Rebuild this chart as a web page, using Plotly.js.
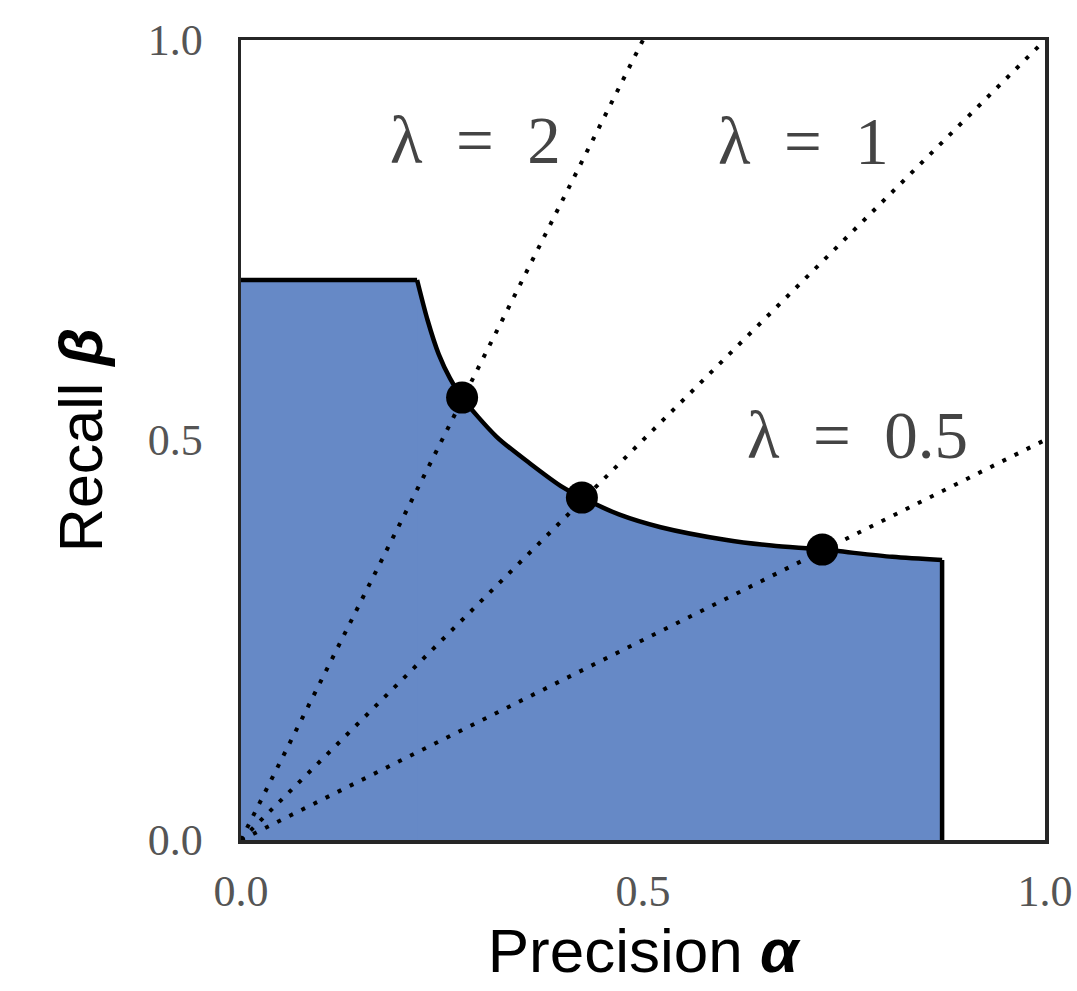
<!DOCTYPE html>
<html>
<head>
<meta charset="utf-8">
<script src="https://cdn.plot.ly/plotly-3.0.1.min.js"></script>
<style>html,body{margin:0;padding:0;background:#fff;}#chart{width:1077px;height:991px;}</style>
</head>
<body>
<div id="chart"></div>
<script>
// PRD curve (precision alpha, recall beta)
const curveAlpha = [0, 0.219, 0.232, 0.246, 0.260, 0.275, 0.318, 0.359, 0.400, 0.424, 0.470, 0.522, 0.604, 0.660, 0.723, 0.810, 0.872, 0.872];
const curveBeta  = [0.700, 0.700, 0.650, 0.607, 0.577, 0.553, 0.504, 0.471, 0.441, 0.428, 0.407, 0.391, 0.375, 0.368, 0.363, 0.354, 0.350, 0];

// lambda rays and their intersections with the curve
const lambdas = [2, 1, 0.5];
const lambdaLabels = ['λ\u2002=\u20022', 'λ\u2002=\u20021', 'λ\u2002=\u20020.5'];
const pointAlpha = [0.275, 0.424, 0.723];
const pointBeta  = [0.553, 0.428, 0.363];
const labelAlpha = [0.292, 0.70, 0.767];
const labelBeta  = [0.875, 0.874, 0.506];

const tickVals = [0, 0.5, 1];
const tickText = ['0.0', '0.5', '1.0'];

const n = curveAlpha.length;
// straight pieces (flat top, vertical right side) and the smooth curved part between them
const curvedA = curveAlpha.slice(1, n - 1), curvedB = curveBeta.slice(1, n - 1);
const FILL = '#6689c6';

const traces = [];
// fill under the whole curve (base), then the smooth part on top of it
traces.push({
  x: curveAlpha, y: curveBeta, type: 'scatter', mode: 'none',
  fill: 'tozeroy', fillcolor: FILL, hoverinfo: 'skip', showlegend: false
});
traces.push({
  x: curvedA, y: curvedB, type: 'scatter', mode: 'none', line: {shape: 'spline', smoothing: 0.8},
  fill: 'tozeroy', fillcolor: FILL, hoverinfo: 'skip', showlegend: false
});
lambdas.forEach(function (lam) {
  const xEnd = Math.min(1, 1 / lam);
  traces.push({
    x: [0, xEnd], y: [0, lam * xEnd], type: 'scatter', mode: 'lines',
    line: {color: '#000', width: 4, dash: '4px,9.5px'}, showlegend: false, hoverinfo: 'skip'
  });
});
traces.push({
  x: curveAlpha.slice(0, 2), y: curveBeta.slice(0, 2), type: 'scatter', mode: 'lines',
  line: {color: '#000', width: 4.5}, showlegend: false
});
traces.push({
  x: curvedA, y: curvedB, type: 'scatter', mode: 'lines',
  line: {color: '#000', width: 4.5, shape: 'spline', smoothing: 0.8}, showlegend: false
});
traces.push({
  x: curveAlpha.slice(n - 2), y: curveBeta.slice(n - 2), type: 'scatter', mode: 'lines',
  line: {color: '#000', width: 4.5}, showlegend: false
});
traces.push({
  x: pointAlpha, y: pointBeta, type: 'scatter', mode: 'markers',
  marker: {color: '#000', size: 32}, showlegend: false
});

const annotations = lambdaLabels.map(function (t, i) {
  return {
    x: labelAlpha[i], y: labelBeta[i], xref: 'x', yref: 'y', text: t, showarrow: false,
    font: {family: 'Liberation Serif, serif', size: 67, color: '#444'},
    xanchor: 'center', yanchor: 'middle'
  };
});

const axisCommon = {
  range: [0, 1], showgrid: false, zeroline: false, showline: true, mirror: true,
  linecolor: '#262626', linewidth: 3.5, ticks: '', tickvals: tickVals, ticktext: tickText,
  tickfont: {family: 'Liberation Serif, serif', size: 44, color: '#555'}, fixedrange: true
};

const layout = {
  width: 1077, height: 991,
  margin: {l: 241, r: 32, t: 40, b: 151},
  paper_bgcolor: '#fff', plot_bgcolor: '#fff',
  xaxis: Object.assign({}, axisCommon, {
    ticklabelstandoff: 10,
    title: {text: 'Precision <b><i>α</i></b>', font: {family: 'Liberation Sans, Arial, sans-serif', size: 62, color: '#000'}, standoff: 14}
  }),
  yaxis: Object.assign({}, axisCommon, {
    ticklabelstandoff: 26,
    title: {text: 'Recall <b><i>β</i></b>', font: {family: 'Liberation Sans, Arial, sans-serif', size: 61, color: '#000'}, standoff: 26}
  }),
  annotations: annotations
};

Plotly.newPlot('chart', traces, layout, {staticPlot: true, displayModeBar: false});
</script>
</body>
</html>
